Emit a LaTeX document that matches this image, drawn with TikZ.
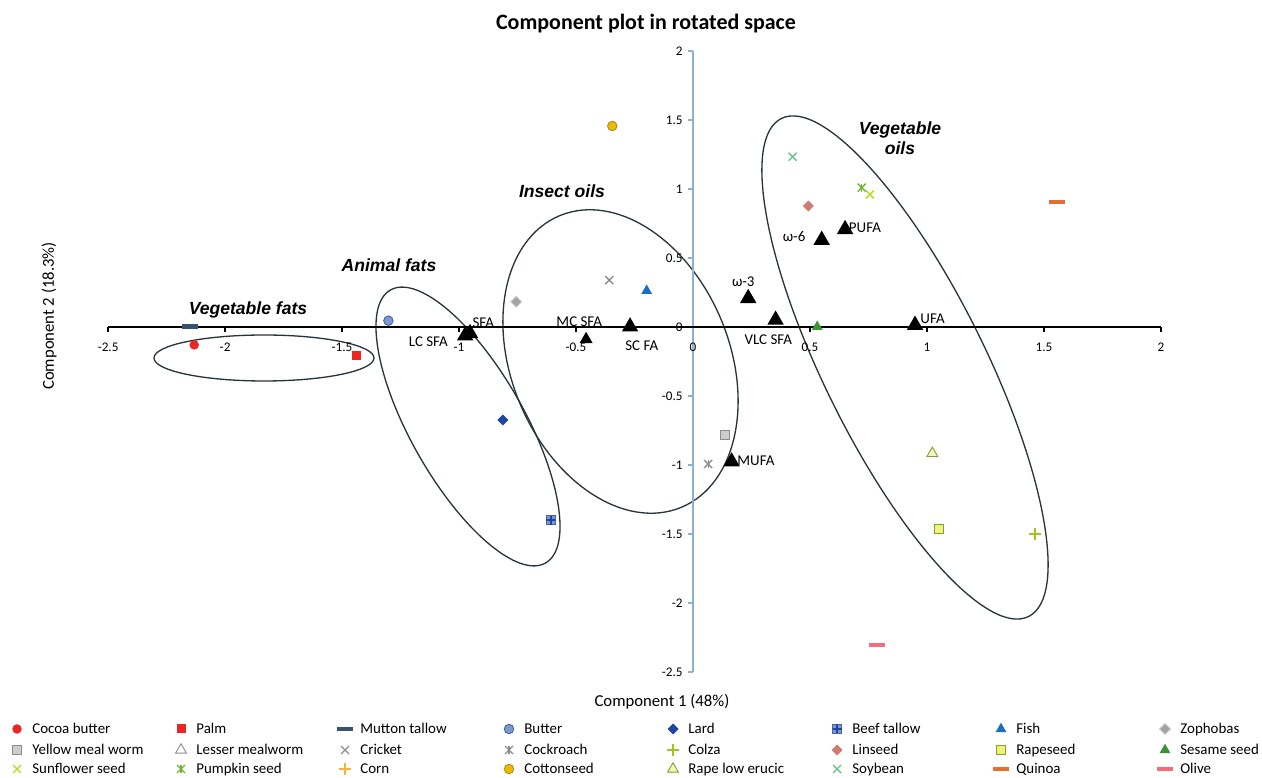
\documentclass[tikz,border=0pt]{standalone}
\usepackage{fontspec}
\setmainfont{Carlito}
\newfontfamily\grpfont{Liberation Sans}
\usetikzlibrary{shapes.geometric,shapes.misc}

\definecolor{cRed}{RGB}{236,38,36}
\definecolor{cSlate}{RGB}{52,84,112}
\definecolor{cBlueLt}{RGB}{124,152,206}
\definecolor{cBlueMid}{RGB}{70,100,160}
\definecolor{cBlueDk}{RGB}{30,70,160}
\definecolor{cFish}{RGB}{30,110,190}
\definecolor{cGray}{RGB}{140,140,140}
\definecolor{cGrayLt}{RGB}{205,205,205}
\definecolor{cGold}{RGB}{236,186,0}
\definecolor{cGoldDk}{RGB}{170,140,40}
\definecolor{cSoy}{RGB}{110,196,140}
\definecolor{cLinseed}{RGB}{206,126,110}
\definecolor{cPumpkin}{RGB}{110,180,50}
\definecolor{cSunfl}{RGB}{190,214,40}
\definecolor{cGreen}{RGB}{56,150,56}
\definecolor{cLeaf}{RGB}{112,168,48}
\definecolor{cPaleYel}{RGB}{248,246,190}
\definecolor{cYellow}{RGB}{246,240,120}
\definecolor{cColza}{RGB}{160,196,30}
\definecolor{cCorn}{RGB}{244,176,64}
\definecolor{cQuinoa}{RGB}{226,112,50}
\definecolor{cOlive}{RGB}{242,110,126}
\definecolor{cAxis}{RGB}{140,178,204}
\definecolor{cRing}{RGB}{40,52,60}

\tikzset{
  mk/.style={inner sep=0pt, outer sep=0pt, line width=0.5pt},
  mcirc/.style={mk, circle, minimum size=0.19cm},
  msq/.style={mk, rectangle, minimum size=0.18cm},
  mdia/.style={mk, diamond, minimum size=0.22cm},
  mtri/.style={mk, regular polygon, regular polygon sides=3, minimum size=0.25cm},
  mcross/.style={mk, cross out, draw, minimum size=0.16cm, line width=0.8pt},
  mplus/.style={mk, cross out, draw, rotate=45, minimum size=0.16cm, line width=0.8pt},
  mdash/.style={mk, rectangle, minimum width=0.32cm, minimum height=0.09cm},
  load/.style={mk, regular polygon, regular polygon sides=3, fill=black, minimum size=0.38cm},
  ring/.style={draw=cRing, line width=0.75pt},
  lbl/.style={inner sep=0pt, font=\fontsize{8.5}{10}\selectfont},
  ticklbl/.style={inner sep=0pt, font=\fontsize{7.5}{8}\selectfont},
  grp/.style={inner sep=0pt, align=center, font=\grpfont\fontsize{10}{11.4}\selectfont\bfseries\itshape},
  leg/.style={inner sep=0pt, anchor=base west, font=\fontsize{8.5}{10}\selectfont}
}

\begin{document}
\begin{tikzpicture}[x=0.02cm, y=0.02cm]
\path[fill=white] (0,0) rectangle (1262,778);
\useasboundingbox (0,0) rectangle (1262,778);

\node[font=\fontsize{12.5}{14}\selectfont\bfseries] (title) at (646,754) {Component plot in rotated space};
\node[font=\fontsize{9.5}{11}\selectfont] (xtitle) at (662,76) {Component 1 (48\%)};
\node[font=\fontsize{9.5}{11}\selectfont, rotate=90] (ytitle) at (49,462) {Component 2 (18.3\%)};

% groups
\draw[ring] (264,420) ellipse (110 and 23);
\draw[ring, rotate around={-60.4:(468,351.5)}] (468,351.5) ellipse (157 and 57);
\draw[ring, rotate around={-67.3:(620.5,416.5)}] (620.5,416.5) ellipse (158 and 109);
\draw[ring, rotate around={-63.6:(905,410.5)}] (905,410.5) ellipse (278 and 80.5);

\node[grp] (gvegfat) at (248,468) {Vegetable fats};
\node[grp] (ganimal) at (389,513) {Animal fats};
\node[grp] (ginsect) at (562,587) {Insect oils};
\node[grp] (gvegoil) at (900,640) {Vegetable\\oils};

\begin{scope}[shift={(693,451)}, x=4.68cm, y=2.76cm]
% axes
\draw[cAxis, line width=0.8pt] (0,-2.5) -- (0,2);
\draw[cAxis, line width=0.8pt] (0,2) -- (-0.021,2) (0,1.5) -- (-0.021,1.5) (0,1) -- (-0.021,1)
  (0,0.5) -- (-0.021,0.5) (0,-0.5) -- (-0.021,-0.5) (0,-1) -- (-0.021,-1)
  (0,-1.5) -- (-0.021,-1.5) (0,-2) -- (-0.021,-2) (0,-2.5) -- (-0.021,-2.5);
\draw[black, line width=0.8pt] (-2.5,0) -- (2,0);
\draw[black, line width=0.8pt] (-2.5,0) -- (-2.5,-0.036) (-2,0) -- (-2,-0.036) (-1.5,0) -- (-1.5,-0.036)
  (-1,0) -- (-1,-0.036) (-0.5,0) -- (-0.5,-0.036) (0.5,0) -- (0.5,-0.036)
  (1,0) -- (1,-0.036) (1.5,0) -- (1.5,-0.036) (2,0) -- (2,-0.036);

\node[ticklbl] (xa) at (-2.5,-0.145) {-2.5};
\node[ticklbl] (xb) at (-2,-0.145) {-2};
\node[ticklbl] (xc) at (-1.5,-0.145) {-1.5};
\node[ticklbl] (xd) at (-1,-0.145) {-1};
\node[ticklbl] (xe) at (-0.5,-0.145) {-0.5};
\node[ticklbl] (xf) at (0,-0.145) {0};
\node[ticklbl] (xg) at (0.5,-0.145) {0.5};
\node[ticklbl] (xh) at (1,-0.145) {1};
\node[ticklbl] (xi) at (1.5,-0.145) {1.5};
\node[ticklbl] (xj) at (2,-0.145) {2};

\node[ticklbl, anchor=east] (ya) at (-0.043,2) {2};
\node[ticklbl, anchor=east] (yb) at (-0.043,1.5) {1.5};
\node[ticklbl, anchor=east] (yc) at (-0.043,1) {1};
\node[ticklbl, anchor=east] (yd) at (-0.043,0.5) {0.5};
\node[ticklbl, anchor=east] (ye) at (-0.043,0) {0};
\node[ticklbl, anchor=east] (yf) at (-0.043,-0.5) {-0.5};
\node[ticklbl, anchor=east] (yg) at (-0.043,-1) {-1};
\node[ticklbl, anchor=east] (yh) at (-0.043,-1.5) {-1.5};
\node[ticklbl, anchor=east] (yi) at (-0.043,-2) {-2};
\node[ticklbl, anchor=east] (yj) at (-0.043,-2.5) {-2.5};

% samples
\node[mdash, fill=cSlate] (mutton) at (-2.15,0.005) {};
\node[mcirc, fill=cRed] (cocoa) at (-2.132,-0.13) {};
\node[msq, fill=cRed] (palm) at (-1.44,-0.21) {};
\node[mcirc, fill=cBlueLt, draw=cBlueMid] (butter) at (-1.302,0.046) {};
\node[mdia, fill=cBlueDk] (lard) at (-0.813,-0.674) {};
\node[msq, fill=cBlueLt, draw=cBlueMid] (beef) at (-0.607,-1.399) {};
\draw[cBlueDk, line width=0.8pt] (beef.north) -- (beef.south) (beef.west) -- (beef.east);
\node[mdia, fill=cGray!80, draw=cGrayLt] (zopho) at (-0.756,0.183) {};
\node[mcross, draw=cGray] (cricket) at (-0.358,0.34) {};
\node[mtri, fill=cFish] (fish) at (-0.198,0.263) {};
\node[mcirc, fill=cGold, draw=cGoldDk] (cotton) at (-0.345,1.457) {};
\node[msq, fill=cGrayLt, draw=cGray] (mealworm) at (0.137,-0.785) {};
\node[mcross, draw=cGray] (roach) at (0.065,-0.993) {};
\draw[cGray, line width=0.8pt] (roach.north) -- (roach.south);
\node[mcross, draw=cSoy] (soy) at (0.426,1.234) {};
\node[mdia, fill=cLinseed] (linseed) at (0.493,0.877) {};
\node[mcross, draw=cPumpkin] (pumpkin) at (0.721,1.01) {};
\draw[cPumpkin, line width=0.8pt] (pumpkin.north) -- (pumpkin.south);
\node[mcross, draw=cSunfl] (sunflower) at (0.756,0.961) {};
\node[mtri, fill=cGreen] (sesame) at (0.531,0.002) {};
\node[mdash, fill=cQuinoa] (quinoa) at (1.556,0.906) {};
\node[mdash, fill=cOlive] (olive) at (0.785,-2.304) {};
\node[mtri, draw=cLeaf, fill=cPaleYel] (lowerucic) at (1.023,-0.916) {};
\node[msq, fill=cYellow, draw=cLeaf] (rapeseed) at (1.053,-1.466) {};
\node[mplus, draw=cColza] (colza) at (1.462,-1.5) {};

% loadings
\node[load] (lcsfa) at (-0.974,-0.063) {};
\node[load] (sfa) at (-0.953,-0.046) {};
\node[load, minimum size=0.3cm] (mcsfa) at (-0.457,-0.089) {};
\node[load] (scfa) at (-0.269,0.002) {};
\node[load] (omega3) at (0.236,0.208) {};
\node[load] (vlcsfa) at (0.353,0.051) {};
\node[load] (omega6) at (0.55,0.63) {};
\node[load] (pufa) at (0.65,0.708) {};
\node[load] (ufa) at (0.949,0.014) {};
\node[load] (mufa) at (0.165,-0.976) {};

\node[lbl] (tsfa) at (-0.896,0.034) {SFA};
\node[lbl] (tlcsfa) at (-1.131,-0.107) {LC SFA};
\node[lbl] (tmcsfa) at (-0.486,0.038) {MC SFA};
\node[lbl] (tscfa) at (-0.219,-0.138) {SC FA};
\node[lbl] (tomega3) at (0.215,0.328) {ω-3};
\node[lbl] (tvlcsfa) at (0.322,-0.094) {VLC SFA};
\node[lbl] (tomega6) at (0.432,0.654) {ω-6};
\node[lbl] (tpufa) at (0.735,0.722) {PUFA};
\node[lbl] (tufa) at (1.024,0.063) {UFA};
\node[lbl] (tmufa) at (0.269,-0.971) {MUFA};
\end{scope}

% legend
\node[mcirc, fill=cRed] (kcocoa) at (17,49) {};
\node[leg] (lcocoa) at (32,44) {Cocoa butter};
\node[msq, fill=cRed] (kpalm) at (181,49) {};
\node[leg] (lpalm) at (196,44) {Palm};
\node[mdash, fill=cSlate] (kmutton) at (345,49) {};
\node[leg] (lmutton) at (360,44) {Mutton tallow};
\node[mcirc, fill=cBlueLt, draw=cBlueMid] (kbutter) at (509,49) {};
\node[leg] (lbutter) at (524,44) {Butter};
\node[mdia, fill=cBlueDk] (klard) at (673,49) {};
\node[leg] (llard) at (688,44) {Lard};
\node[msq, fill=cBlueLt, draw=cBlueMid] (kbeef) at (837,49) {};
\draw[cBlueDk, line width=0.8pt] (kbeef.north) -- (kbeef.south) (kbeef.west) -- (kbeef.east);
\node[leg] (lbeef) at (852,44) {Beef tallow};
\node[mtri, fill=cFish] (kfish) at (1001,49) {};
\node[leg] (lfish) at (1016,44) {Fish};
\node[mdia, fill=cGray!80, draw=cGrayLt] (kzopho) at (1165,49) {};
\node[leg] (lzopho) at (1180,44) {Zophobas};

\node[msq, fill=cGrayLt, draw=cGray] (kmealworm) at (17,28) {};
\node[leg] (lmealworm) at (32,23) {Yellow meal worm};
\node[mtri, draw=cGray, fill=white] (klesser) at (181,28) {};
\node[leg] (llesser) at (196,23) {Lesser mealworm};
\node[mcross, draw=cGray] (kcricket) at (345,28) {};
\node[leg] (lcricket) at (360,23) {Cricket};
\node[mcross, draw=cGray] (kroach) at (509,28) {};
\draw[cGray, line width=0.8pt] (kroach.north) -- (kroach.south);
\node[leg] (lroach) at (524,23) {Cockroach};
\node[mplus, draw=cColza] (kcolza) at (673,28) {};
\node[leg] (lcolza) at (688,23) {Colza};
\node[mdia, fill=cLinseed] (klinseed) at (837,28) {};
\node[leg] (llinseed) at (852,23) {Linseed};
\node[msq, fill=cYellow, draw=cLeaf] (krapeseed) at (1001,28) {};
\node[leg] (lrapeseed) at (1016,23) {Rapeseed};
\node[mtri, fill=cGreen] (ksesame) at (1165,28) {};
\node[leg] (lsesame) at (1180,23) {Sesame seed};

\node[mcross, draw=cSunfl] (ksunflower) at (17,9) {};
\node[leg] (lsunflower) at (32,4) {Sunflower seed};
\node[mcross, draw=cPumpkin] (kpumpkin) at (181,9) {};
\draw[cPumpkin, line width=0.8pt] (kpumpkin.north) -- (kpumpkin.south);
\node[leg] (lpumpkin) at (196,4) {Pumpkin seed};
\node[mplus, draw=cCorn] (kcorn) at (345,9) {};
\node[leg] (lcorn) at (360,4) {Corn};
\node[mcirc, fill=cGold, draw=cGoldDk] (kcotton) at (509,9) {};
\node[leg] (lcotton) at (524,4) {Cottonseed};
\node[mtri, draw=cLeaf, fill=cPaleYel] (klowerucic) at (673,9) {};
\node[leg] (llowerucic) at (688,4) {Rape low erucic};
\node[mcross, draw=cSoy] (ksoy) at (837,9) {};
\node[leg] (lsoy) at (852,4) {Soybean};
\node[mdash, fill=cQuinoa] (kquinoa) at (1001,9) {};
\node[leg] (lquinoa) at (1016,4) {Quinoa};
\node[mdash, fill=cOlive] (kolive) at (1165,9) {};
\node[leg] (lolive) at (1180,4) {Olive};
\end{tikzpicture}
\end{document}
